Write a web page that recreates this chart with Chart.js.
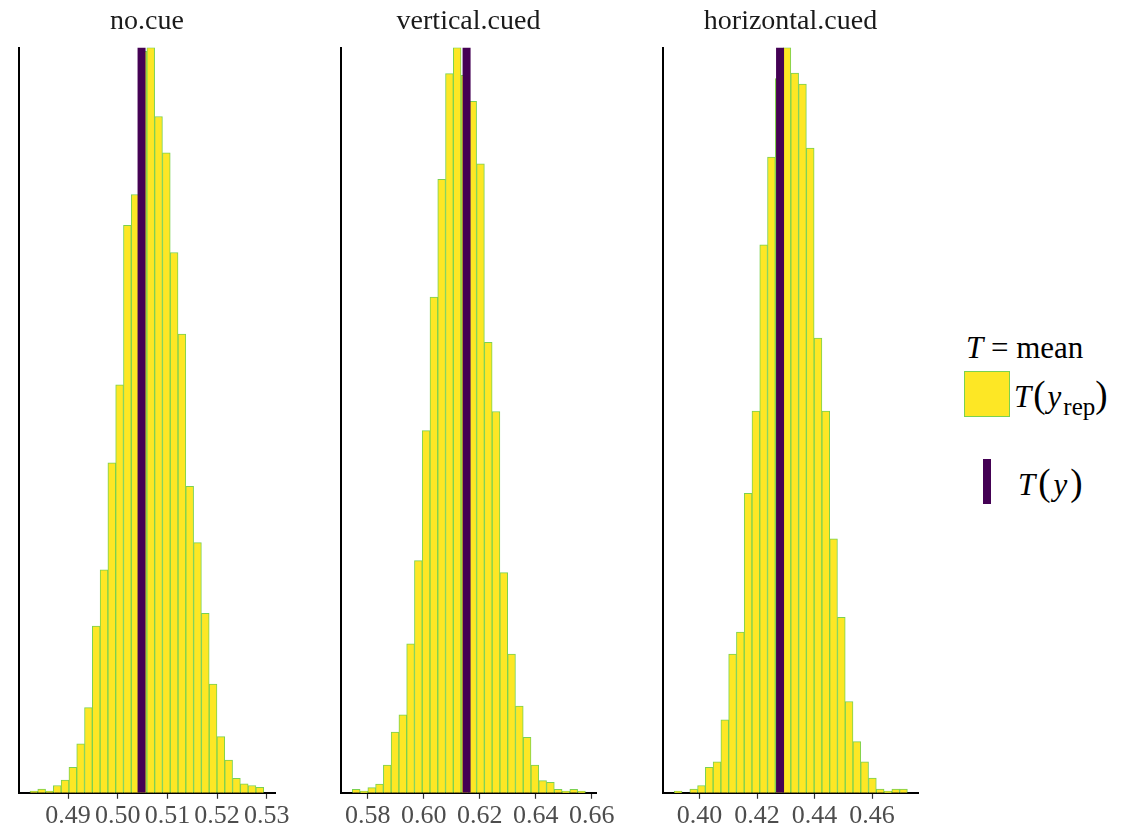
<!DOCTYPE html>
<html>
<head>
<meta charset="utf-8">
<script src="https://cdn.jsdelivr.net/npm/chart.js@4.4.1/dist/chart.umd.min.js"></script>
<style>
  body { margin: 0; background: #fff; }
  #wrap { position: relative; width: 1124px; height: 833px; overflow: hidden; font-family: "Liberation Serif", serif; }
  #wrap canvas { position: absolute; top: 0; }
  .leg { position: absolute; font-size: 31px; line-height: 1; color: #000; white-space: nowrap; }
  .leg i { font-style: italic; }
  .par { font-size: 37px; }
  .sub { font-size: 25px; vertical-align: -8px; letter-spacing: 0; }
</style>
</head>
<body>
<div id="wrap">
  <canvas id="c1" width="300" height="833" style="left:0px"></canvas>
  <canvas id="c2" width="320" height="833" style="left:300px"></canvas>
  <canvas id="c3" width="320" height="833" style="left:620px"></canvas>

  <div class="leg" style="left:966px; top:332px;"><i>T</i> = mean</div>
  <div style="position:absolute; left:964px; top:371px; width:44px; height:44px; background:#FDE725; border:1px solid #7AD151;"></div>
  <div class="leg" style="left:1014px; top:376px; letter-spacing:2px;"><i>T</i><span class="par">(</span><i>y</i><span class="sub">rep</span><span class="par">)</span></div>
  <div style="position:absolute; left:983px; top:459px; width:8px; height:45px; background:#440154;"></div>
  <div class="leg" style="left:1018px; top:464px; letter-spacing:3px;"><i>T</i><span class="par">(</span><i>y</i><span class="par">)</span></div>
</div>

<script>
// bayesplot viridis scheme
const FILL = '#FDE725';
const OUTLINE = '#7AD151';
const DARK = '#440154';

// no.cue
const noCueRange = [0.48235, 0.52938];
const noCueCounts = [1, 2, 1, 4, 7, 14, 27, 47, 92, 123, 182, 225, 313, 330, 409, 411, 373, 353, 298, 253, 169, 138, 99, 60, 31, 18, 8, 5, 4, 3];
const noCueObs = 0.5048;
const noCueTicks = [0.49, 0.50, 0.51, 0.52, 0.53];
const noCueLimits = [0.48014, 0.53165];

// vertical.cued
const verticalRange = [0.57452, 0.65769];
const verticalCounts = [2, 1, 3, 5, 16, 35, 45, 86, 134, 209, 286, 354, 415, 430, 414, 399, 363, 260, 220, 127, 80, 50, 32, 16, 7, 6, 2, 1, 2, 1];
const verticalObs = 0.6153;
const verticalTicks = [0.58, 0.60, 0.62, 0.64, 0.66];
const verticalLimits = [0.57049, 0.66148];

// horizontal.cued
const horizontalRange = [0.39122, 0.47227];
const horizontalCounts = [1, 0, 2, 4, 14, 17, 40, 76, 88, 164, 209, 300, 348, 391, 408, 394, 388, 353, 249, 209, 139, 96, 50, 28, 17, 8, 2, 1, 2, 2];
const horizontalObs = 0.4280;
const horizontalTicks = [0.40, 0.42, 0.44, 0.46];
const horizontalLimits = [0.3873, 0.47596];

function binPoints(range, counts) {
    const w = (range[1] - range[0]) / counts.length;
    return counts.map((c, i) => ({ x: range[0] + (i + 0.5) * w, y: c }));
}

function makePanel(id, title, range, counts, obs, ticks, limits, padL, padR) {
    const ymax = Math.max(...counts);
    new Chart(document.getElementById(id).getContext('2d'), {
        type: 'bar',
        data: {
            datasets: [
                {
                    type: 'line',
                    label: 'T(y)',
                    data: [{ x: obs, y: 0 }, { x: obs, y: ymax }],
                    borderColor: DARK,
                    borderWidth: 8,
                    pointRadius: 0,
                    order: 0,
                },
                {
                    type: 'bar',
                    label: 'T(yrep)',
                    data: binPoints(range, counts),
                    backgroundColor: FILL,
                    borderColor: OUTLINE,
                    borderWidth: 1,
                    barPercentage: 1,
                    categoryPercentage: 1,
                    order: 1,
                },
            ]
        },
        options: {
            responsive: false,
            animation: false,
            devicePixelRatio: 1,
            layout: { padding: { left: padL, right: padR, top: 0, bottom: 0 } },
            scales: {
                x: {
                    type: 'linear',
                    offset: false,
                    min: limits[0],
                    max: limits[1],
                    afterBuildTicks: s => { s.ticks = ticks.map(v => ({ value: v })); },
                    grid: { display: true, offset: false, drawOnChartArea: false, drawTicks: true, tickLength: 6, tickColor: '#333333', tickWidth: 1.2 },
                    border: { display: true, color: '#000000', width: 2 },
                    ticks: {
                        autoSkip: false, maxRotation: 0, padding: 3,
                        color: '#4D4D4D',
                        font: { family: '"Liberation Serif", serif', size: 26, lineHeight: 1.085 },
                        callback: v => Number(v).toFixed(2),
                    },
                },
                y: {
                    min: 0,
                    max: ymax,
                    ticks: { display: false },
                    grid: { display: false, drawTicks: false },
                    border: { display: true, color: '#000000', width: 2 },
                },
            },
            plugins: {
                legend: { display: false },
                tooltip: { enabled: false },
                title: {
                    display: true,
                    text: title,
                    color: '#1A1A1A',
                    font: { family: '"Liberation Serif", serif', size: 28, weight: 'normal', lineHeight: 1.2 },
                    padding: { top: 5, bottom: 9 },
                },
            },
        }
    });
}

makePanel('c1', 'no.cue', noCueRange, noCueCounts, noCueObs, noCueTicks, noCueLimits, 19, 25);
makePanel('c2', 'vertical.cued', verticalRange, verticalCounts, verticalObs, verticalTicks, verticalLimits, 41, 24);
makePanel('c3', 'horizontal.cued', horizontalRange, horizontalCounts, horizontalObs, horizontalTicks, horizontalLimits, 43, 22);
</script>
</body>
</html>
